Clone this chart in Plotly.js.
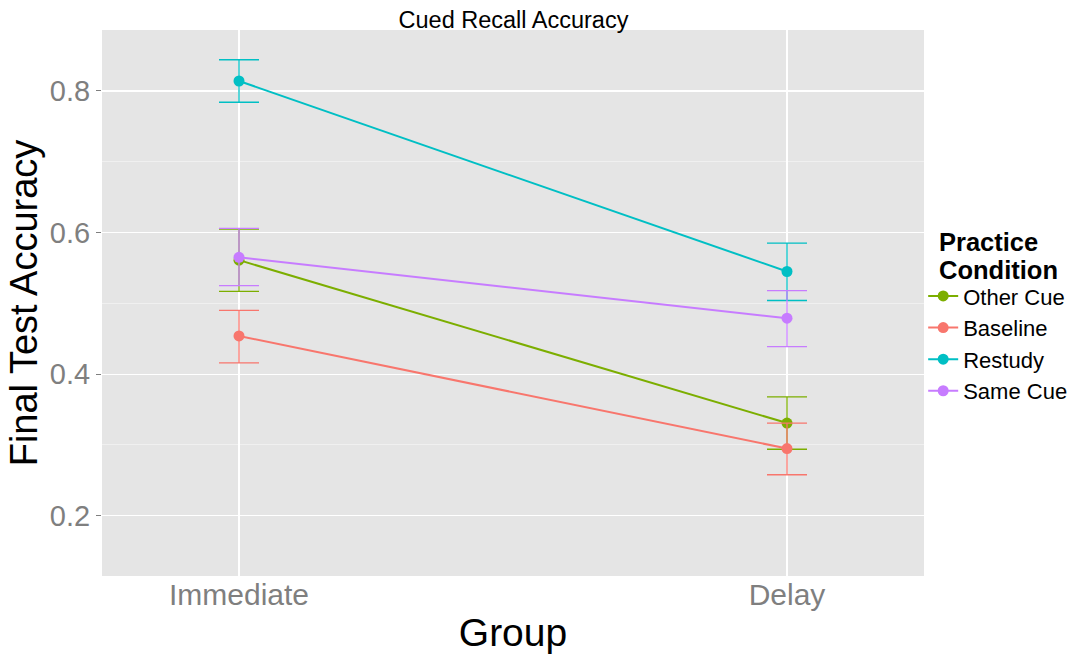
<!DOCTYPE html>
<html>
<head>
<meta charset="utf-8">
<script src="https://cdn.plot.ly/plotly-3.0.1.min.js"></script>
<style>html,body{margin:0;padding:0;background:#fff;}#chart{width:1081px;height:657px;}</style>
</head>
<body>
<div id="chart"></div>
<script>
const groups = ["Immediate", "Delay"];
const seriesNames = ["Other Cue", "Baseline", "Restudy", "Same Cue"];
const otherCue = [0.561, 0.331];
const otherCueHi = [0.605, 0.368];
const otherCueLo = [0.517, 0.294];
const baseline = [0.454, 0.295];
const baselineHi = [0.490, 0.331];
const baselineLo = [0.416, 0.258];
const restudy = [0.814, 0.545];
const restudyHi = [0.844, 0.585];
const restudyLo = [0.784, 0.504];
const sameCue = [0.565, 0.479];
const sameCueHi = [0.606, 0.518];
const sameCueLo = [0.525, 0.439];
const yTicks = [0.2, 0.4, 0.6, 0.8];

const colors = {"Other Cue": "#7CAE00", "Baseline": "#F8766D", "Restudy": "#00BFC4", "Same Cue": "#C77CFF"};
const vals = {"Other Cue": [otherCue, otherCueHi, otherCueLo], "Baseline": [baseline, baselineHi, baselineLo],
              "Restudy": [restudy, restudyHi, restudyLo], "Same Cue": [sameCue, sameCueHi, sameCueLo]};

const traces = seriesNames.map(name => {
  const [m, hi, lo] = vals[name];
  return {
    type: "scatter", mode: "lines+markers", name: name,
    x: groups, y: m,
    line: {color: colors[name], width: 2},
    marker: {color: colors[name], size: 11},
    error_y: {type: "data", symmetric: false,
      array: hi.map((h, i) => h - m[i]), arrayminus: lo.map((l, i) => m[i] - l),
      color: colors[name], thickness: 1.3, width: 20}
  };
});

const font = "Liberation Sans, Arial, Helvetica, sans-serif";
const layout = {
  width: 1081, height: 657,
  margin: {l: 102, r: 157, t: 30, b: 81, autoexpand: false},
  paper_bgcolor: "#ffffff", plot_bgcolor: "#E5E5E5",
  font: {family: font, color: "#000"},
  title: {text: "Cued Recall Accuracy", font: {size: 23.5, color: "#000", family: font}, x: 0.475, xanchor: "center", y: 0.97, yanchor: "middle"},
  xaxis: {
    type: "category", range: [-0.25, 1.25], automargin: false,
    showgrid: true, gridcolor: "#FFFFFF", gridwidth: 1.2,
    ticks: "", ticklabelstandoff: -2,
    tickfont: {size: 30, color: "#7F7F7F"},
    zeroline: false, showline: false,
    title: {text: "Group", font: {size: 39, color: "#000"}, standoff: 8}
  },
  yaxis: {
    range: [0.115, 0.886], automargin: false,
    tickvals: yTicks, ticktext: yTicks.map(v => v.toFixed(1)),
    showgrid: true, gridcolor: "#FFFFFF", gridwidth: 1.2,
    minor: {dtick: 0.1, showgrid: true, gridcolor: "#F2F2F2", gridwidth: 0.8},
    ticks: "outside", ticklen: 5, tickcolor: "#7F7F7F", tickwidth: 1,
    tickfont: {size: 29, color: "#7F7F7F"},
    zeroline: false, showline: false,
    title: {text: "Final Test Accuracy", font: {size: 38, color: "#000"}, standoff: 0}
  },
  legend: {
    x: 0.999, xanchor: "left", y: 0.551, yanchor: "top",
    font: {size: 22, color: "#000"},
    tracegroupgap: 0, itemwidth: 30, bgcolor: "rgba(0,0,0,0)"
  },
  annotations: [
    {xref: "paper", yref: "paper", x: 1.016, y: 0.6117, xanchor: "left", yanchor: "middle",
     text: "<b>Practice</b>", showarrow: false, align: "left", font: {size: 25.5, color: "#000", family: font}},
    {xref: "paper", yref: "paper", x: 1.016, y: 0.5604, xanchor: "left", yanchor: "middle",
     text: "<b>Condition</b>", showarrow: false, align: "left", font: {size: 25.5, color: "#000", family: font}}
  ],
  showlegend: true
};

Plotly.newPlot("chart", traces, layout, {displayModeBar: false, staticPlot: true});
</script>
</body>
</html>
